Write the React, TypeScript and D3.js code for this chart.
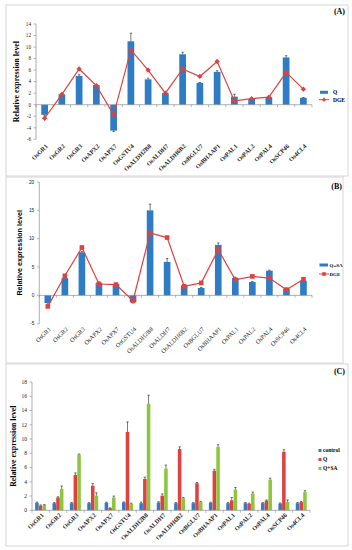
import React from "react";
import * as d3 from "d3";

const genes = ["OsGR1","OsGR2","OsGR3","OsAPX2","OsAPX7","OsGSTU4","OsALDH2B8","OsALDH7","OsALDH6B2","OsBGLU7","OsBHAAP1","OsPAL1","OsPAL2","OsPAL4","OsSCP46","Os4CL4"];

// Panel A
const ticksA = [-6,-4,-2,0,2,4,6,8,10,12,14];
const qA = [-1.75,1.8,5.0,3.4,-4.5,11.0,4.4,2.0,8.75,3.8,5.7,1.4,1.0,1.3,8.2,1.2];
const errQA = [0.1,0.1,0.2,0.1,0.15,1.4,0.2,0.1,0.35,0.05,0.2,0.4,0.05,0.05,0.3,0.05];
const dgeA = [-2.35,1.8,6.2,3.3,-1.75,9.5,6.0,2.0,6.2,4.9,7.5,0.65,1.05,1.3,5.6,2.7];

// Panel B
const ticksB = [-5,0,5,10,15,20];
const qsaB = [-1.36,3.05,7.6,2.2,2.0,-1.2,15.0,5.9,1.75,1.3,8.9,3.05,2.35,4.35,1.17,2.6];
const errB = [0.2,0.35,0.1,0.2,0.15,0.15,1.1,0.6,0.1,0.1,0.35,0.15,0.1,0.1,0.1,0.1];
const dgeB = [-1.95,3.45,8.45,2.0,1.9,-0.95,11.0,10.2,1.6,2.2,8.05,2.75,3.35,3.05,1.0,2.85];

// Panel C
const ticksC = [0,2,4,6,8,10,12,14,16,18];
const seriesC = ["control","Q","Q+SA"];
const controlC = [1.05,1.0,1.0,1.0,1.05,1.1,1.0,1.1,1.0,1.0,1.05,1.0,1.0,1.0,0.95,1.0];
const qC = [0.65,1.8,4.95,3.45,0.3,11.0,4.4,2.05,8.6,3.8,5.55,1.4,0.9,1.35,8.2,1.15];
const qsaC = [0.75,3.0,7.8,2.05,1.8,0.9,14.95,5.85,1.7,1.15,8.9,2.9,2.35,4.3,1.15,2.55];
const errControlC = [0.1,0.08,0.1,0.08,0.08,0.08,0.15,0.1,0.08,0.08,0.08,0.1,0.08,0.08,0.08,0.1];
const errQC = [0.1,0.1,0.3,0.3,0.05,1.4,0.25,0.25,0.3,0.1,0.2,0.4,0.1,0.1,0.3,0.1];
const errQsaC = [0.05,0.4,0.1,0.4,0.2,0.1,1.2,0.5,0.1,0.1,0.3,0.3,0.2,0.2,0.3,0.2];

const BLUE = "#2e7dc4";
const RED = "#e0413e";
const GREEN = "#8cc63e";
const AXIS = "#8c8c8c";
const SERIF = "'Liberation Serif', 'Times New Roman', serif";
const SANS = "'Liberation Sans', Arial, sans-serif";

function ErrBar({ x, y0, y1 }: { x: number; y0: number; y1: number }) {
  return (
    <g stroke="#222" strokeWidth={0.6}>
      <line x1={x} x2={x} y1={y0} y2={y1} />
      <line x1={x - 1.2} x2={x + 1.2} y1={y1} y2={y1} />
    </g>
  );
}

function Frame({ x, y, w, h }: { x: number; y: number; w: number; h: number }) {
  return <rect x={x} y={y} width={w} height={h} fill="#fff" stroke="#d6d6d6" strokeWidth={1} />;
}

function YAxis({ y, ticks, x0, font, size }: any) {
  return (
    <g>
      <line x1={x0} x2={x0} y1={y(ticks[ticks.length - 1])} y2={y(ticks[0])} stroke={AXIS} strokeWidth={0.7} />
      {ticks.map((t: number) => (
        <g key={t}>
          <line x1={x0 - 2.5} x2={x0} y1={y(t)} y2={y(t)} stroke={AXIS} strokeWidth={0.6} />
          <text x={x0 - 5} y={y(t)} dy="0.35em" textAnchor="end" fontSize={size} fontFamily={font} fill="#222">{t}</text>
        </g>
      ))}
    </g>
  );
}

function XAxisLine({ x, y0v, y, font, labelY, bold }: any) {
  const bw = x.step();
  const [r0, r1] = x.range();
  return (
    <g>
      <line x1={r0} x2={r1} y1={y(y0v)} y2={y(y0v)} stroke={AXIS} strokeWidth={0.7} />
      {d3.range(genes.length + 1).map((i) => (
        <line key={i} x1={r0 + i * bw} x2={r0 + i * bw} y1={y(y0v)} y2={y(y0v) + 2.5} stroke={AXIS} strokeWidth={0.6} />
      ))}
      {genes.map((g) => {
        const cx = (x(g) as number) + bw / 2 + 2;
        return (
          <text key={g} transform={`translate(${cx},${labelY}) rotate(-45)`} textAnchor="end" dy="0.35em"
            fontSize={6.2} fontFamily={font} fontWeight={bold ? "bold" : "normal"} fill="#222">{g}</text>
        );
      })}
    </g>
  );
}

function PanelA() {
  const x = d3.scaleBand<string>().domain(genes).range([36, 312]);
  const y = d3.scaleLinear().domain([-6, 14]).range([139.3, 24]);
  const bw = x.bandwidth() * 0.39;
  const line = d3.line<number>().x((_, i) => (x(genes[i]) as number) + x.bandwidth() / 2).y((d) => y(d));
  return (
    <g>
      <Frame x={6} y={5} w={342} h={171} />
      <YAxis y={y} ticks={ticksA} x0={36} font={SERIF} size={5.2} />
      {qA.map((v, i) => {
        const cx = (x(genes[i]) as number) + x.bandwidth() / 2;
        const top = Math.min(y(v), y(0));
        const e = v >= 0 ? y(v + errQA[i]) : y(v - errQA[i]);
        return (
          <g key={i}>
            <rect x={cx - bw / 2} y={top} width={bw} height={Math.abs(y(v) - y(0))} fill={BLUE} />
            <ErrBar x={cx} y0={y(v)} y1={e} />
          </g>
        );
      })}
      <XAxisLine x={x} y0v={0} y={y} font={SERIF} labelY={145} bold />
      <path d={line(dgeA) as string} fill="none" stroke={RED} strokeWidth={1.2} />
      {dgeA.map((v, i) => {
        const cx = (x(genes[i]) as number) + x.bandwidth() / 2;
        return <path key={i} d={d3.symbol(d3.symbolDiamond2, 18)() as string} transform={`translate(${cx},${y(v)})`} fill={RED} />;
      })}
      <text x={345} y={14} textAnchor="end" fontSize={8} fontWeight="bold" fontFamily={SERIF}>(A)</text>
      <text transform={`translate(19,${y(4)}) rotate(-90)`} textAnchor="middle" fontSize={7.8} fontWeight="bold" fontFamily={SERIF}>Relative expression level</text>
      <rect x={320} y={90.8} width={8} height={3} fill={BLUE} />
      <text x={333} y={92.3} dy="0.35em" fontSize={5.5} fontWeight="bold" fontFamily={SERIF}>Q</text>
      <line x1={319} x2={329} y1={99.7} y2={99.7} stroke={RED} strokeWidth={1} />
      <path d={d3.symbol(d3.symbolDiamond2, 12)() as string} transform="translate(324,99.7)" fill={RED} />
      <text x={333} y={99.7} dy="0.35em" fontSize={5.5} fontWeight="bold" fontFamily={SERIF}>DGE</text>
    </g>
  );
}

function PanelB() {
  const x = d3.scaleBand<string>().domain(genes).range([39.3, 312]);
  const y = d3.scaleLinear().domain([-5, 20]).range([323.7, 182]);
  const bw = x.bandwidth() * 0.39;
  const line = d3.line<number>().x((_, i) => (x(genes[i]) as number) + x.bandwidth() / 2).y((d) => y(d));
  return (
    <g>
      <Frame x={6} y={177} w={337} h={186} />
      <YAxis y={y} ticks={ticksB} x0={39.3} font={SANS} size={4.8} />
      {qsaB.map((v, i) => {
        const cx = (x(genes[i]) as number) + x.bandwidth() / 2;
        const top = Math.min(y(v), y(0));
        const e = v >= 0 ? y(v + errB[i]) : y(v - errB[i]);
        return (
          <g key={i}>
            <rect x={cx - bw / 2} y={top} width={bw} height={Math.abs(y(v) - y(0))} fill={BLUE} />
            <ErrBar x={cx} y0={y(v)} y1={e} />
          </g>
        );
      })}
      <XAxisLine x={x} y0v={0} y={y} font={SERIF} labelY={328} />
      <path d={line(dgeB) as string} fill="none" stroke={RED} strokeWidth={1.2} />
      {dgeB.map((v, i) => {
        const cx = (x(genes[i]) as number) + x.bandwidth() / 2;
        return <rect key={i} x={cx - 2.3} y={y(v) - 2.3} width={4.6} height={4.6} fill={RED} />;
      })}
      <text x={342} y={189} textAnchor="end" fontSize={8} fontWeight="bold" fontFamily={SERIF}>(B)</text>
      <text transform={`translate(22,${y(7.5)}) rotate(-90)`} textAnchor="middle" fontSize={7.2} fontWeight="bold" fontFamily={SANS}>Relative expression level</text>
      <rect x={319.5} y={263.5} width={8.5} height={3} fill={BLUE} />
      <text x={329.5} y={265} dy="0.35em" fontSize={5} fontWeight="bold" fontFamily={SERIF}>Q+SA</text>
      <line x1={319} x2={329} y1={274} y2={274} stroke={RED} strokeWidth={1} />
      <rect x={322.2} y={272.2} width={3.6} height={3.6} fill={RED} />
      <text x={329.5} y={274} dy="0.35em" fontSize={5} fontWeight="bold" fontFamily={SERIF}>DGE</text>
    </g>
  );
}

function PanelC() {
  const x = d3.scaleBand<string>().domain(genes).range([32, 310]);
  const y = d3.scaleLinear().domain([0, 18]).range([510.3, 382]);
  const sub = d3.scaleBand<string>().domain(seriesC).range([0, x.bandwidth()]).paddingOuter(0.85).paddingInner(0);
  const colors = [BLUE, RED, GREEN];
  const vals = [controlC, qC, qsaC];
  const errs = [errControlC, errQC, errQsaC];
  const w = sub.bandwidth() * 0.96;
  return (
    <g>
      <Frame x={6} y={364} w={342} h={182} />
      <YAxis y={y} ticks={ticksC} x0={32} font={SERIF} size={5.5} />
      {genes.map((g, i) => (
        <g key={g}>
          {seriesC.map((s, k) => {
            const bx = (x(g) as number) + (sub(s) as number);
            const v = vals[k][i];
            return (
              <g key={s}>
                <rect x={bx} y={y(v)} width={w} height={y(0) - y(v)} fill={colors[k]} />
                <ErrBar x={bx + w / 2} y0={y(v)} y1={y(v + errs[k][i])} />
              </g>
            );
          })}
        </g>
      ))}
      <XAxisLine x={x} y0v={0} y={y} font={SERIF} labelY={514} bold />
      <text x={345} y={374} textAnchor="end" fontSize={8} fontWeight="bold" fontFamily={SERIF}>(C)</text>
      <text transform={`translate(16,${y(9)}) rotate(-90)`} textAnchor="middle" fontSize={7.8} fontWeight="bold" fontFamily={SERIF}>Relative expression level</text>
      {seriesC.map((s, k) => (
        <g key={s}>
          <rect x={318.5} y={450.5 + k * 9 - 1.5} width={3} height={3} fill={colors[k]} />
          <text x={323} y={450.5 + k * 9} dy="0.35em" fontSize={5.5} fontWeight="bold" fontFamily={SERIF}>{s}</text>
        </g>
      ))}
    </g>
  );
}

export default function App() {
  return (
    <svg width={352} height={550} style={{ position: "absolute", left: 0, top: 0, background: "#fff" }}>
      <rect x={0} y={0} width={352} height={550} fill="#fff" />
      <PanelA />
      <PanelB />
      <PanelC />
    </svg>
  );
}
